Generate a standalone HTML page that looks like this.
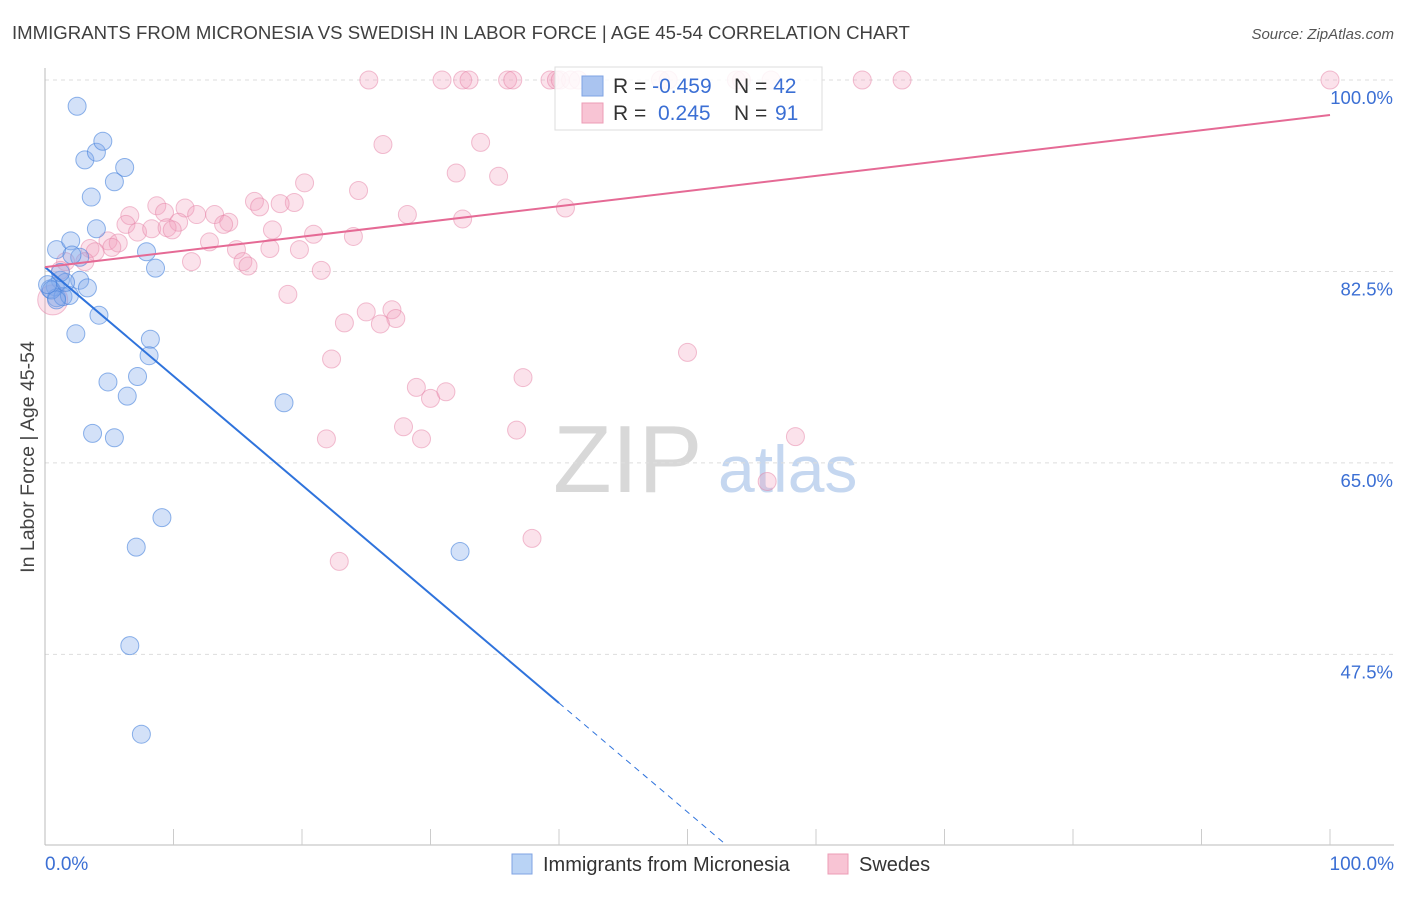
<!DOCTYPE html>
<html><head><meta charset="utf-8"><style>
body{margin:0;background:#fff;font-family:"Liberation Sans",sans-serif}
svg text{font-family:"Liberation Sans",sans-serif}
</style></head><body>
<svg id="chart" width="1406" height="892">
<text x="12" y="39" font-size="18.6" fill="#404040">IMMIGRANTS FROM MICRONESIA VS SWEDISH IN LABOR FORCE | AGE 45-54 CORRELATION CHART</text>
<text x="1394" y="39" font-size="15" fill="#555" font-style="italic" text-anchor="end">Source: ZipAtlas.com</text>
<text x="34" y="457" font-size="19.5" fill="#444" text-anchor="middle" transform="rotate(-90 34 457)">In Labor Force | Age 45-54</text>
<g>
<text x="553" y="492" font-size="96" fill="#d8d8d8" font-family="Liberation Serif">ZIP</text>
<text x="718" y="492" font-size="66" fill="#c5d7f0">atlas</text>
</g>
<g id="grid"></g><g id="axes"></g><g id="pts"></g><g id="lines"></g>
<g>
<rect x="555" y="67" width="267" height="63" fill="#fff" fill-opacity="0.85" stroke="#ddd"/>
<rect x="582" y="76" width="21" height="20" fill="#aac4f0" stroke="#7fa3e3"/>
<rect x="582" y="103" width="21" height="20" fill="#f8c4d4" stroke="#ec9cb6"/>
<text x="613" y="93" font-size="21" fill="#333">R = <tspan fill="#3b6fd4">-0.459</tspan></text>
<text x="734" y="93" font-size="21" fill="#333">N = <tspan fill="#3b6fd4">42</tspan></text>
<text x="613" y="120" font-size="21" fill="#333">R = <tspan fill="#3b6fd4" x="658">0.245</tspan></text>
<text x="734" y="120" font-size="21" fill="#333">N = <tspan fill="#3b6fd4" x="775">91</tspan></text>
</g>
<g>
<rect x="512" y="854" width="20" height="20" fill="#b9d3f5" stroke="#7fa3e3"/>
<text x="543" y="871" font-size="20" fill="#333">Immigrants from Micronesia</text>
<rect x="828" y="854" width="20" height="20" fill="#f8c4d4" stroke="#ec9cb6"/>
<text x="859" y="871" font-size="20" fill="#333">Swedes</text>
</g>
<text x="45" y="870" font-size="19" fill="#3b6fd4">0.0%</text>
<text x="1394" y="870" font-size="19" fill="#3b6fd4" text-anchor="end">100.0%</text>
</svg>
<script>
const yTicks=[100,82.5,65,47.5];
const yTickLabels=["100.0%","82.5%","65.0%","47.5%"];
const blueX=[2.5,3.1,4.0,4.5,3.6,5.4,6.2,4.0,0.9,2.0,7.9,8.6,2.7,2.7,3.3,1.2,0.8,0.4,0.9,1.4,1.9,4.2,2.4,8.2,8.1,4.9,7.2,6.4,18.6,3.7,5.4,9.1,7.1,32.3,6.6,7.5,0.5,1.6,0.2,2.1,1.2,0.9];
const blueY=[97.6,92.7,93.4,94.4,89.3,90.7,92.0,86.4,84.5,85.3,84.3,82.8,83.8,81.7,81.0,81.7,81.1,80.9,80.1,80.2,80.3,78.5,76.8,76.3,74.8,72.4,72.9,71.1,70.5,67.7,67.3,60.0,57.3,56.9,48.3,40.2,80.8,81.5,81.3,84.0,82.4,79.9];
const pinkX=[25.2,30.9,32.5,33.0,36.0,36.4,39.3,39.8,40.1,40.9,41.5,47.9,48.5,53.8,54.2,56.5,63.6,66.7,100,
26.3,33.9,32.0,35.3,24.4,20.2,16.3,19.4,18.3,16.7,8.7,10.9,11.8,13.2,14.3,6.6,9.3,10.4,6.3,7.2,8.3,9.5,9.9,13.9,28.2,32.5,40.5,20.9,24.0,17.7,12.8,14.9,17.5,19.8,4.9,5.7,3.5,3.9,5.2,11.4,15.4,15.8,21.5,3.1,1.6,1.2,0.6,18.9,25.0,27.0,27.3,23.3,26.1,22.3,50.0,37.2,28.9,30.0,31.2,27.9,21.9,29.3,36.7,58.4,56.2,37.9,22.9];
const pinkY=[100,100,100,100,100,100,100,100,100,100,100,100,100,100,100,100,100,100,100,
94.1,94.3,91.5,91.2,89.9,90.6,88.9,88.8,88.7,88.4,88.5,88.3,87.7,87.7,87.0,87.6,87.9,87.0,86.8,86.1,86.4,86.5,86.3,86.8,87.7,87.3,88.3,85.9,85.7,86.3,85.2,84.5,84.6,84.5,85.3,85.1,84.6,84.3,84.7,83.4,83.4,83.0,82.6,83.4,83.4,82.6,79.9,80.4,78.8,79.0,78.2,77.8,77.7,74.5,75.1,72.8,71.9,70.9,71.5,68.3,67.2,67.2,68.0,67.4,63.3,58.1,56.0];
const blueTrend=[82.9,43.05];   // y at x=0 and x=40
const pinkTrend=[82.9,96.8];    // y at x=0 and x=100
const NS="http://www.w3.org/2000/svg";
const X=v=>45+v*12.85, Y=v=>80+(100-v)*10.94;
function mk(tag,attrs,parent){const e=document.createElementNS(NS,tag);for(const k in attrs)e.setAttribute(k,attrs[k]);document.getElementById(parent).appendChild(e);return e;}
yTicks.forEach((t,i)=>{
 const g=mk('line',{x1:45,x2:1394,y1:Y(t),y2:Y(t),stroke:'#ddd','stroke-dasharray':'4,4'},'grid');
 
 
 const l=mk('text',{x:1393,y:Y(t)+24,'font-size':18.5,fill:'#3b6fd4','text-anchor':'end'},'grid');
 l.textContent=yTickLabels[i];
 
 
});
const ax=mk('line',{x1:45,x2:45,y1:68,y2:845,stroke:'#bbb'},'axes');


const bx=mk('line',{x1:45,x2:1394,y1:845,y2:845,stroke:'#bbb'},'axes');


for(let i=1;i<=10;i++){
 const t=mk('line',{x1:X(i*10),x2:X(i*10),y1:829,y2:845,stroke:'#ccc'},'axes');
 
 
}
pinkX.forEach((x,i)=>{
 const r=(i===65)?15:9;
 const c=mk('circle',{cx:X(x),cy:Y(pinkY[i]),r:r,fill:'rgba(242,160,188,0.3)',stroke:'rgba(230,130,165,0.5)','stroke-width':1},'pts');
 
 
});
blueX.forEach((x,i)=>{
 const c=mk('circle',{cx:X(x),cy:Y(blueY[i]),r:9,fill:'rgba(130,170,235,0.35)',stroke:'rgba(70,130,220,0.6)','stroke-width':1},'pts');
 
 
});
const slope=(blueTrend[1]-blueTrend[0])/40;
const bl=mk('line',{x1:X(0),y1:Y(blueTrend[0]),x2:X(40),y2:Y(blueTrend[1]),stroke:'#2f73dc','stroke-width':2},'lines');


const xEnd=(blueTrend[0]-(100-(845-80)/10.94))/(-slope);
const bd=mk('line',{x1:X(40),y1:Y(blueTrend[1]),x2:X(xEnd),y2:845,stroke:'#2f73dc','stroke-width':1,'stroke-dasharray':'6,5'},'lines');


const pl=mk('line',{x1:X(0),y1:Y(pinkTrend[0]),x2:X(100),y2:Y(pinkTrend[1]),stroke:'#e56a95','stroke-width':2},'lines');


</script>
</body></html>
